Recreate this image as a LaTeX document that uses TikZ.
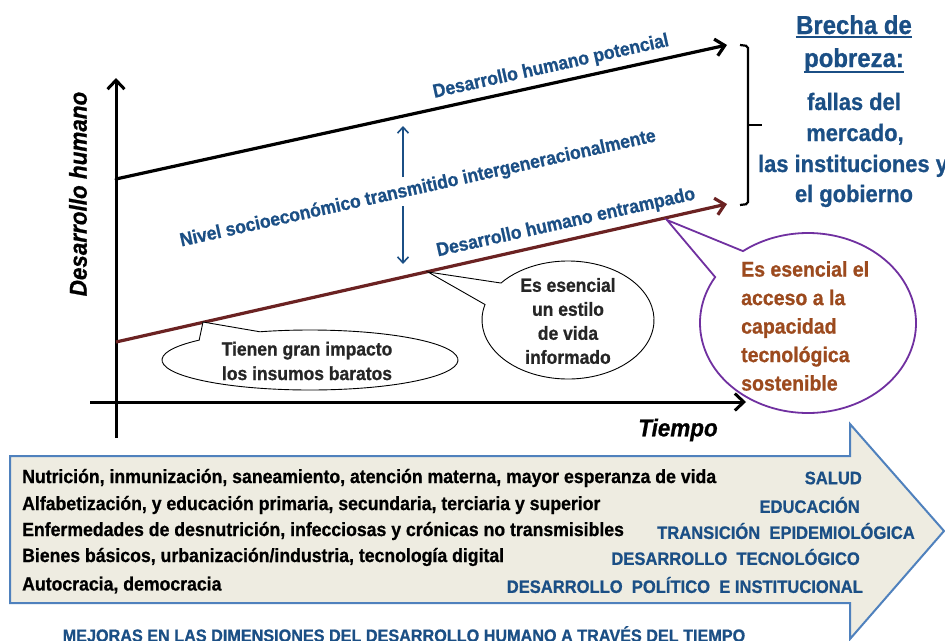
\documentclass[tikz,border=0pt]{standalone}
\usepackage{fontspec}
\setmainfont{Liberation Sans}[FakeStretch=0.92,BoldFeatures={FakeBold=0.8},BoldItalicFeatures={FakeBold=0.8}]
\usetikzlibrary{arrows.meta,calc}
\definecolor{tblue}{HTML}{1B4F85}
\definecolor{trapred}{HTML}{6B2222}
\definecolor{bubpurple}{HTML}{7030A0}
\definecolor{bubbrown}{HTML}{9C4A1E}
\definecolor{boxfill}{HTML}{EEECE1}
\definecolor{boxline}{HTML}{4F81BD}
\definecolor{darktxt}{HTML}{262626}
\begin{document}
\begin{tikzpicture}[x=1pt,y=-1pt,
  axis/.style={line width=3pt,-{Straight Barb[length=9pt,width=17pt]}},
  potline/.style={line width=3.2pt,-{Straight Barb[length=9pt,width=17pt]}},
  trapline/.style={potline,draw=trapred},
  gaparrow/.style={draw=tblue,line width=1.6pt,-{Straight Barb[length=6pt,width=11pt]}},
  slantlbl/.style={text=tblue,rotate=12.5,inner sep=0pt,font=\fontsize{19}{24}\selectfont\bfseries},
  gaptxt/.style={text=tblue,anchor=base,inner sep=0pt,font=\fontsize{23.8}{30}\selectfont\bfseries},
  bubble/.style={draw=black,fill=white,line width=0.9pt},
  bubtxt/.style={text=darktxt,align=center,inner sep=0pt,font=\fontsize{19}{24.5}\selectfont\bfseries},
  rowtxt/.style={anchor=west,text=black,inner sep=0pt,font=\fontsize{19.2}{22}\selectfont\bfseries},
  dimtxt/.style={anchor=east,text=tblue,inner sep=0pt,font=\fontsize{18}{22}\selectfont\bfseries},
  axtxt/.style={text=black,inner sep=0pt,font=\fontsize{24.4}{28}\selectfont\bfseries\itshape}]
\useasboundingbox (0,0) rectangle (945,640);
\fill[white] (0,0) rectangle (945,640);

% ---------- big arrow at the bottom ----------
\draw[fill=boxfill,draw=boxline,line width=2pt,line join=miter]
  (10,456) -- (850,456) -- (850,424) -- (944,531) -- (850,639) -- (850,603) -- (10,603) -- cycle;
\node[rowtxt] (r1) at (22,478) {Nutrición, inmunización, saneamiento, atención materna, mayor esperanza de vida};
\node[rowtxt] (r2) at (22,505) {Alfabetización, y educación primaria, secundaria, terciaria y superior};
\node[rowtxt] (r3) at (22,531) {Enfermedades de desnutrición, infecciosas y crónicas no transmisibles};
\node[rowtxt] (r4) at (22,557) {Bienes básicos, urbanización/industria, tecnología digital};
\node[rowtxt] (r5) at (22,585) {Autocracia, democracia};
\node[dimtxt] (d1) at (862,478) {SALUD};
\node[dimtxt] (d2) at (860,505) {EDUCACIÓN};
\node[dimtxt] (d3) at (915,531) {TRANSICIÓN\ \ EPIDEMIOLÓGICA};
\node[dimtxt] (d4) at (860,557) {DESARROLLO\ \ TECNOLÓGICO};
\node[dimtxt] (d5) at (863,585) {DESARROLLO\ \ POLÍTICO\ \ E INSTITUCIONAL};
\node[text=tblue,inner sep=0pt,font=\fontsize{17.6}{22}\selectfont\bfseries] (cap) at (404,634)
  {MEJORAS EN LAS DIMENSIONES DEL DESARROLLO HUMANO A TRAVÉS DEL TIEMPO};

% ---------- axes ----------
\coordinate (ybot) at (116,438);
\coordinate (ytop) at (116,78);
\coordinate (xleft) at (90,402);
\coordinate (xright) at (746,402);
\draw[axis] (ybot) -- (ytop);
\draw[axis] (xleft) -- (xright);
\node[axtxt,rotate=90] (ylab) at (78,194) {Desarrollo humano};
\node[axtxt] (xlab) at (678,430) {Tiempo};

% ---------- development lines ----------
\coordinate (p0) at (116,179);
\coordinate (p1) at (727,45);
\coordinate (t0) at (116,342);
\coordinate (t1) at (727,204);
\draw[potline,line cap=round] (p0) -- (p1);
\draw[trapline] (t0) -- (t1);
\node[slantlbl] (lpot) at (551,67) {Desarrollo humano potencial};
\node[slantlbl] (lniv) at (418,189) {Nivel socioeconómico transmitido intergeneracionalmente};
\node[slantlbl] (ltrap) at (566,223) {Desarrollo humano entrampado};

% gap arrow
\coordinate (ga1) at (403,177);
\coordinate (ga2) at (403,126);
\coordinate (gb1) at (403,206);
\coordinate (gb2) at (403,264);
\draw[gaparrow] (ga1) -- (ga2);
\draw[gaparrow] (gb1) -- (gb2);

% ---------- bracket & poverty gap text ----------
\draw[line width=2.2pt,rounded corners=2pt]
  (740,45) -- (748,46) -- (748,204) -- (740,205);
\draw[line width=2.2pt] (748,125) -- (762,125);
\node[gaptxt,font=\fontsize{26}{30}\selectfont\bfseries] (g1) at (854,34) {Brecha de};
\node[gaptxt,font=\fontsize{26}{30}\selectfont\bfseries] (g2) at (854,67) {pobreza:\ };
\draw[tblue,line width=1.6pt] ([yshift=-3pt]g1.base west) -- ([yshift=-3pt]g1.base east);
\draw[tblue,line width=1.6pt] ([yshift=-5pt]g2.base west) -- ([yshift=-5pt]g2.base east);
\node[gaptxt] (g3) at (854,110) {fallas del};
\node[gaptxt] (g4) at (855,141) {mercado,};
\node[gaptxt] (g5) at (853,172) {las instituciones y};
\node[gaptxt] (g6) at (854,202) {el gobierno};

% ---------- speech bubbles ----------
% bubble 1
\coordinate (c1) at (310,360);
\coordinate (tip1) at (203,322);
\draw[bubble] (tip1) -- ($(c1)+(221.5:148 and 30)$)
  arc[start angle=221.5,end angle=-109.8,x radius=148,y radius=30] -- cycle;
\node[bubtxt] (b1) at (307,361) {Tienen gran impacto\\los insumos baratos};
% bubble 2
\coordinate (c2) at (568,320);
\coordinate (tip2) at (428,272);
\draw[bubble] (tip2) -- ($(c2)+(195.2:86 and 59)$)
  arc[start angle=195.2,end angle=-141.2,x radius=86,y radius=59] -- cycle;
\node[bubtxt,font=\fontsize{19}{24}\selectfont\bfseries] (b2) at (568,321) {Es esencial\\un estilo\\de vida\\informado};
% bubble 3
\coordinate (c3) at (808,323);
\coordinate (tip3) at (667,220);
\draw[bubble,draw=bubpurple,line width=1.8pt] (tip3) -- ($(c3)+(210.7:108 and 90)$)
  arc[start angle=210.7,end angle=-127,x radius=108,y radius=90] -- cycle;
\node[text=bubbrown,anchor=west,align=left,inner sep=0pt,font=\fontsize{21.2}{28.5}\selectfont\bfseries] (b3) at (741,326)
  {Es esencial el\\acceso a la\\capacidad\\tecnológica\\sostenible};
\end{tikzpicture}
\end{document}
